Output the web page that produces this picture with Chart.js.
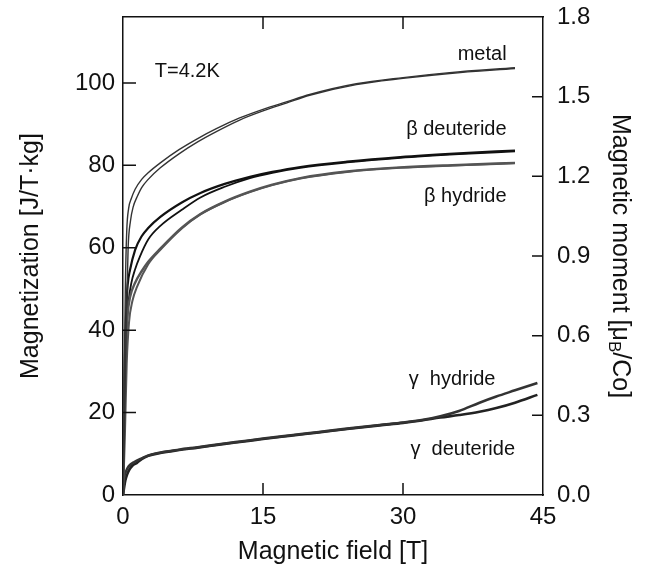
<!DOCTYPE html>
<html>
<head>
<meta charset="utf-8">
<script src="https://cdn.jsdelivr.net/npm/chart.js@4.4.1/dist/chart.umd.min.js"></script>
<style>
body{margin:0;background:#fff;}
canvas{display:block;}
</style>
</head>
<body>
<canvas id="chart" width="648" height="579"></canvas>
<script>
// field values [T] and magnetization [J/T·kg]
const metalUpB = [0, 0.1, 0.25, 0.4, 0.6, 0.9, 1.3, 2, 2.7, 4, 6, 8, 10, 12.5, 15, 17.5, 20, 25, 30, 35, 42];
const metalUpM = [0, 20, 50, 64, 69.5, 72, 74.2, 76.6, 78.2, 80.6, 83.8, 86.5, 88.9, 91.5, 93.6, 95.4, 97.2, 99.8, 101.3, 102.5, 103.7];
const metalDownB = [0, 0.15, 0.35, 0.55, 0.8, 1.1, 1.5, 2, 2.7, 4, 6, 8, 10, 12.5, 15, 17.5, 20, 25, 30, 35, 42];
const metalDownM = [0, 15, 42, 60, 66.5, 70, 72.3, 74.6, 76.6, 79.4, 82.8, 85.7, 88.2, 91, 93.2, 95.1, 97, 99.6, 101.1, 102.3, 103.5];

const betaDeutAB = [0, 0.08, 0.2, 0.35, 0.5, 0.75, 1.3, 2, 2.7, 4, 6.3, 8.3, 10.9, 13.6, 16, 19, 24, 29.7, 36, 42];
const betaDeutAM = [0, 15, 33, 45, 51, 54.6, 59.5, 62.8, 64.8, 67.5, 71, 73.3, 75.5, 77.2, 78.4, 79.6, 80.9, 82, 82.9, 83.6];
const betaDeutBB = [0, 0.15, 0.35, 0.6, 0.9, 1.3, 1.8, 2.7, 4, 6.3, 8.3, 10.9, 13.6, 16, 19, 24, 29.7, 36, 42];
const betaDeutBM = [0, 18, 38, 47, 51.5, 54.8, 57.8, 62, 65.3, 69.2, 72.2, 74.8, 76.9, 78.2, 79.4, 80.7, 81.8, 82.7, 83.4];

const betaHydAB = [0, 0.12, 0.3, 0.5, 0.75, 1.3, 2, 2.7, 4, 6.3, 8.3, 10.9, 13.6, 16, 19, 24, 29.7, 36, 42];
const betaHydAM = [0, 18, 36, 44, 48, 51.5, 54.3, 56.6, 59.8, 64.9, 68.2, 71.2, 73.6, 75.3, 76.9, 78.5, 79.5, 80.1, 80.6];
const betaHydBB = [0, 0.2, 0.4, 0.65, 1, 1.5, 2.7, 4, 6.3, 8.3, 10.9, 13.6, 16, 19, 24, 29.7, 36, 42];
const betaHydBM = [0, 14, 32, 42, 47, 50.5, 56, 59.5, 64.7, 68.1, 71.1, 73.5, 75.2, 76.8, 78.4, 79.4, 80, 80.5];

const gammaHydB = [0, 0.05, 0.15, 0.3, 0.5, 0.8, 1.2, 2, 2.7, 4, 6, 8, 10.9, 13, 15, 18, 21, 24, 27.5, 30, 32, 34, 36, 38.2, 40, 42, 44.4];
const gammaHydM = [0, 2.5, 4.5, 5.6, 6.6, 7.4, 8, 8.9, 9.6, 10.3, 11, 11.6, 12.5, 13.1, 13.7, 14.5, 15.3, 16.1, 17, 17.6, 18.2, 19.1, 20.4, 22.4, 23.9, 25.4, 27.2];
const gammaDeutB = [0, 0.1, 0.25, 0.45, 0.7, 1, 1.5, 2, 2.7, 4, 6, 8, 10.9, 13, 15, 18, 21, 24, 27.5, 30, 32, 34, 36, 38.2, 40, 42, 44.4];
const gammaDeutM = [0, 1.5, 3.5, 5, 6.2, 7.1, 7.8, 8.7, 9.5, 10.2, 10.9, 11.5, 12.4, 13, 13.6, 14.4, 15.2, 16, 16.9, 17.5, 18.1, 18.8, 19.4, 20.2, 21.1, 22.4, 24.3];

const xTicks = [0, 15, 30, 45];
const yTicks = [0, 20, 40, 60, 80, 100];
const momentTicks = [0, 0.3, 0.6, 0.9, 1.2, 1.5, 1.8];

// curve labels: [text, field, magnetization, align]
const curveLabels = [
  ["metal", 41.1, 105.5, "right"],
  ["T=4.2K", 3.4, 101.5, "left"],
  ["\u03b2 deuteride", 41.1, 87.4, "right"],
  ["\u03b2 hydride", 41.1, 71.1, "right"],
  ["\u03b3  hydride", 39.9, 26.7, "right"],
  ["\u03b3  deuteride", 42, 9.7, "right"]
];

const FONT = "'Liberation Sans', Arial, Helvetica, sans-serif";

function pts(bs, ms){
  return bs.map((b,i)=>({x:b, y:ms[i]}));
}

function curve(bs, ms, color, width){
  return {
    data: pts(bs, ms),
    borderColor: color,
    borderWidth: width,
    pointRadius: 0,
    fill: false,
    cubicInterpolationMode: "monotone"
  };
}

function noPad(s){
  s.paddingTop = 0; s.paddingBottom = 0;
  s.paddingLeft = 0; s.paddingRight = 0;
}

const decorations = {
  id: "decorations",
  afterDraw(chart){
    const ctx = chart.ctx;
    const area = chart.chartArea;
    const x = chart.scales.x, y = chart.scales.y, y1 = chart.scales.y1;
    ctx.save();
    ctx.strokeStyle = "#111";
    ctx.lineWidth = 1.5;
    ctx.beginPath();
    // inward tick marks
    yTicks.filter(v=>v>0).forEach(v=>{
      const p = y.getPixelForValue(v);
      ctx.moveTo(area.left, p); ctx.lineTo(area.left+13, p);
    });
    momentTicks.filter(v=>v>0 && v<1.8).forEach(v=>{
      const p = y1.getPixelForValue(v);
      ctx.moveTo(area.right, p); ctx.lineTo(area.right-11, p);
    });
    xTicks.filter(v=>v>0 && v<45).forEach(v=>{
      const p = x.getPixelForValue(v);
      ctx.moveTo(p, area.bottom); ctx.lineTo(p, area.bottom-12);
      ctx.moveTo(p, area.top); ctx.lineTo(p, area.top+12);
    });
    ctx.stroke();

    // curve labels
    ctx.fillStyle = "#111";
    ctx.font = "20px " + FONT;
    ctx.textBaseline = "alphabetic";
    curveLabels.forEach(l=>{
      ctx.textAlign = l[3];
      ctx.fillText(l[0], x.getPixelForValue(l[1]), y.getPixelForValue(l[2]));
    });

    // right axis title with subscript
    const t1 = "Magnetic moment [\u03bc", t2 = "B", t3 = "/Co]";
    const big = "25px " + FONT, small = "17px " + FONT;
    ctx.font = big; const w1 = ctx.measureText(t1).width, w3 = ctx.measureText(t3).width;
    ctx.font = small; const w2 = ctx.measureText(t2).width;
    const total = w1 + w2 + w3;
    ctx.translate(620, (area.top+area.bottom)/2);
    ctx.rotate(Math.PI/2);
    ctx.textAlign = "left";
    ctx.textBaseline = "middle";
    let cx = -total/2;
    ctx.font = big; ctx.fillText(t1, cx, 0); cx += w1;
    ctx.font = small; ctx.fillText(t2, cx, 6); cx += w2;
    ctx.font = big; ctx.fillText(t3, cx, 0);
    ctx.restore();
  }
};

new Chart(document.getElementById("chart"), {
  type: "line",
  data: {
    datasets: [
      curve(metalUpB, metalUpM, "#333", 1.4),
      curve(metalDownB, metalDownM, "#333", 1.4),
      curve(betaHydAB, betaHydAM, "#555", 2.4),
      curve(betaHydBB, betaHydBM, "#555", 2.0),
      curve(betaDeutAB, betaDeutAM, "#111", 2.2),
      curve(betaDeutBB, betaDeutBM, "#111", 1.8),
      curve(gammaHydB, gammaHydM, "#333", 2.6),
      curve(gammaDeutB, gammaDeutM, "#222", 2.6)
    ]
  },
  options: {
    responsive: false,
    animation: false,
    devicePixelRatio: 1,
    layout: { padding: 0 },
    plugins: { legend: { display: false }, tooltip: { enabled: false } },
    scales: {
      x: {
        type: "linear", position: "bottom", min: 0, max: 45,
        afterBuildTicks: s => { s.ticks = xTicks.map(v=>({value:v})); },
        afterFit: s => { s.height = 84; noPad(s); },
        grid: { display: false, drawTicks: false },
        border: { display: true, color: "#111", width: 1.5 },
        ticks: { color: "#111", padding: 8, maxRotation: 0, font: { family: FONT, size: 24 } },
        title: { display: true, text: "Magnetic field [T]", color: "#111",
                 font: { family: FONT, size: 25 }, padding: { top: 0, bottom: 12 } }
      },
      xTop: {
        type: "linear", position: "top", min: 0, max: 45,
        afterFit: s => { s.height = 17; noPad(s); },
        grid: { display: false, drawTicks: false },
        border: { display: true, color: "#111", width: 1.5 },
        ticks: { display: false }
      },
      y: {
        type: "linear", position: "left", min: 0, max: 116,
        afterBuildTicks: s => { s.ticks = yTicks.map(v=>({value:v})); },
        afterFit: s => { s.width = 123; noPad(s); },
        grid: { display: false, drawTicks: false },
        border: { display: true, color: "#111", width: 1.5 },
        ticks: { color: "#111", padding: 8, font: { family: FONT, size: 24 } },
        title: { display: true, text: "Magnetization [J/T\u00b7kg]", color: "#111",
                 font: { family: FONT, size: 25 }, padding: { top: 16, bottom: 0 } }
      },
      y1: {
        type: "linear", position: "right", min: 0, max: 1.8,
        afterBuildTicks: s => { s.ticks = momentTicks.map(v=>({value:v})); },
        afterFit: s => { s.width = 105; noPad(s); },
        grid: { display: false, drawTicks: false },
        border: { display: true, color: "#111", width: 1.5 },
        ticks: { color: "#111", padding: 14, font: { family: FONT, size: 24 },
                 callback: v => v.toFixed(1) }
      }
    }
  },
  plugins: [decorations]
});
</script>
</body>
</html>
